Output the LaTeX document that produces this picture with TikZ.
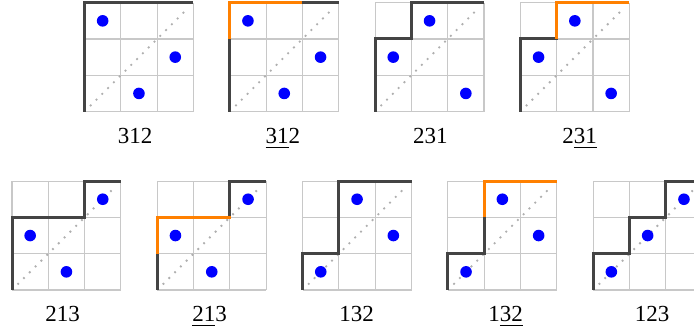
\documentclass[tikz,border=0pt]{standalone}
\usepackage{fontspec}
\setmainfont{Liberation Serif}
\definecolor{pathgray}{RGB}{68,68,68}
\definecolor{pathorange}{RGB}{255,128,0}
\definecolor{gridgray}{RGB}{200,200,200}
\definecolor{diaggray}{RGB}{175,175,175}
\definecolor{dotblue}{RGB}{0,0,255}
\newsavebox\myulbox
\newcommand\myul[1]{\sbox\myulbox{#1}\rlap{\rule[-4.5pt]{\wd\myulbox}{1.5pt}}\usebox\myulbox}
\tikzset{
  gridline/.style={gridgray, line width=1.1pt},
  diagline/.style={diaggray, line width=2.6pt, line cap=round, dash pattern=on 0pt off 8.2pt},
  dyck/.style={pathgray, line width=3pt, line join=miter},
  dyckhi/.style={pathorange, line width=3pt, line join=miter},
  permdot/.style={fill=dotblue, draw=none},
  permlabel/.style={font=\fontsize{23}{27}\selectfont, anchor=base, inner sep=0pt}
}
\newcommand\permgrid[2]{%
  \begin{scope}[shift={#1}, x=36.3pt, y=36.3pt]
    \foreach \i in {0,...,3} {
      \draw[gridline] (\i,0) -- (\i,3);
      \draw[gridline] (0,\i) -- (3,\i);
    }
    \draw[diagline] (0.17,0.17) -- (2.83,2.83);
    #2
  \end{scope}}
\newcommand\pdots[3]{%
  \fill[permdot] (0.5,#1-0.5) circle[radius=5.8pt];
  \fill[permdot] (1.5,#2-0.5) circle[radius=5.8pt];
  \fill[permdot] (2.5,#3-0.5) circle[radius=5.8pt];}
\begin{document}
\begin{tikzpicture}[x=1pt,y=1pt]
\useasboundingbox (0,0) rectangle (694,331);
\clip (0,0) rectangle (694,331);
% top row
\permgrid{(84.5,219.4)}{\draw[dyck] (0,0) -- (0,3) -- (3,3); \pdots{3}{1}{2}}
\permgrid{(229.8,219.4)}{\draw[dyck] (0,0) -- (0,2); \draw[dyck] (2,3) -- (3,3);
  \draw[dyckhi] (0,2) -- (0,3) -- (2,3); \pdots{3}{1}{2}}
\permgrid{(375.1,219.4)}{\draw[dyck] (0,0) -- (0,2) -- (1,2) -- (1,3) -- (3,3); \pdots{2}{3}{1}}
\permgrid{(520.4,219.4)}{\draw[dyck, shorten >=-1.5pt] (0,0) -- (0,2) -- (1,2);
  \draw[dyckhi] (1,2) -- (1,3) -- (3,3); \pdots{2}{3}{1}}
% bottom row
\permgrid{(12,41)}{\draw[dyck] (0,0) -- (0,2) -- (2,2) -- (2,3) -- (3,3); \pdots{2}{1}{3}}
\permgrid{(157.3,41)}{\draw[dyck] (0,0) -- (0,1); \draw[dyck] (2,2) -- (2,3) -- (3,3);
  \draw[dyckhi, shorten >=-1.5pt] (0,1) -- (0,2) -- (2,2); \pdots{2}{1}{3}}
\permgrid{(302.6,41)}{\draw[dyck] (0,0) -- (0,1) -- (1,1) -- (1,3) -- (3,3); \pdots{1}{3}{2}}
\permgrid{(447.9,41)}{\draw[dyck] (0,0) -- (0,1) -- (1,1) -- (1,2);
  \draw[dyckhi] (1,2) -- (1,3) -- (3,3); \pdots{1}{3}{2}}
\permgrid{(593.2,41)}{\draw[dyck] (0,0) -- (0,1) -- (1,1) -- (1,2) -- (2,2) -- (2,3) -- (3,3); \pdots{1}{2}{3}}
% labels
\node[permlabel] (t1) at (135,187) {312};
\node[permlabel] (t2) at (282.8,187) {\myul{31}2};
\node[permlabel] (t3) at (430.3,187) {231};
\node[permlabel] (t4) at (579.5,187) {2\myul{31}};
\node[permlabel] (b1) at (62.5,9) {213};
\node[permlabel] (b2) at (209.5,9) {\myul{21}3};
\node[permlabel] (b3) at (356.7,9) {132};
\node[permlabel] (b4) at (505.5,9) {1\myul{32}};
\node[permlabel] (b5) at (652,9) {123};
\end{tikzpicture}
\end{document}
